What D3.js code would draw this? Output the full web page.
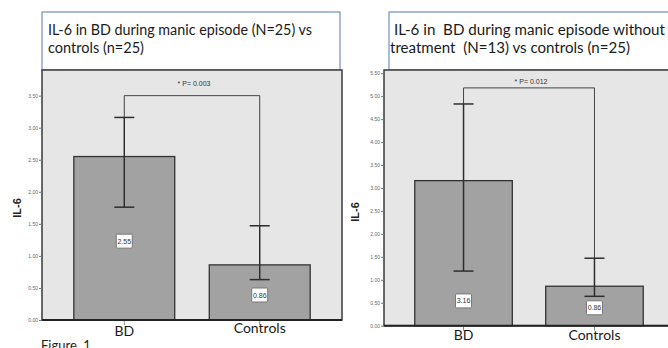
<!DOCTYPE html>
<html>
<head>
<meta charset="utf-8">
<script src="https://cdn.jsdelivr.net/npm/d3@7"></script>
<style>
  body { margin: 0; background: #fff; }
  svg { display: block; }
</style>
</head>
<body>
<svg width="668" height="348"></svg>
<script>
// data
var categories = ['BD', 'Controls'];

var leftMeans = [2.55, 0.86];
var leftLower = [1.76, 0.63];
var leftUpper = [3.16, 1.47];

var rightMeans = [3.16, 0.86];
var rightLower = [1.19, 0.64];
var rightUpper = [4.83, 1.47];

var leftTicks = [0, 0.5, 1, 1.5, 2, 2.5, 3, 3.5];
var rightTicks = [0, 0.5, 1, 1.5, 2, 2.5, 3, 3.5, 4, 4.5, 5, 5.5];

var leftTitle = ['IL-6 in BD during manic episode (N=25) vs', 'controls (n=25)'];
var rightTitle = ['IL-6 in  BD during manic episode without', 'treatment  (N=13) vs controls (n=25)'];

var leftP = '* P= 0.003';
var rightP = '* P= 0.012';
var yLabel = 'IL-6';

var svg = d3.select('svg');

// layout of each panel (pixels / value units)
var panels = [
  {
    means: leftMeans, lower: leftLower, upper: leftUpper, ticks: leftTicks,
    title: leftTitle, p: leftP,
    x0: 42, x1: 342, y0: 70, y1: 320, yMax: 3.9,
    box: { x: 42, y: 12, w: 298 },
    titleX: [48, 48], titleLen: [264, 96],
    bracketAt: 3.5, pY: 86, labelAt: [1.23, 0.39], xLabelY: [336, 333],
    yLabelX: 21, yLabelY: 208
  },
  {
    means: rightMeans, lower: rightLower, upper: rightUpper, ticks: rightTicks,
    title: rightTitle, p: rightP,
    x0: 384, x1: 674, y0: 70, y1: 325.7, yMax: 5.57,
    box: { x: 389, y: 12, w: 290 },
    titleX: [394, 390], titleLen: [271, 240],
    bracketAt: 5.18, pY: 84, labelAt: [0.54, 0.39], xLabelY: [340, 340],
    yLabelX: 359, yLabelY: 212
  }
];

panels.forEach(function(p) {
  var g = svg.append('g');

  var x = d3.scaleBand().domain(categories).range([p.x0, p.x1])
    .paddingInner(0.255).paddingOuter(0.235);
  var y = d3.scaleLinear().domain([0, p.yMax]).range([p.y1, p.y0]);

  // title box
  g.append('rect')
    .attr('x', p.box.x).attr('y', p.box.y)
    .attr('width', p.box.w).attr('height', p.y0 - p.box.y)
    .attr('fill', '#fff').attr('stroke', '#6f8fc0').attr('stroke-width', 1.2);

  g.selectAll('.title').data(p.title).enter().append('text')
    .attr('x', function(d, i) { return p.titleX[i]; })
    .attr('y', function(d, i) { return 35 + i * 18; })
    .attr('textLength', function(d, i) { return p.titleLen[i]; })
    .attr('lengthAdjust', 'spacingAndGlyphs')
    .attr('font-family', 'Lato, sans-serif')
    .attr('font-size', 14.5)
    .attr('fill', '#1a1a1a')
    .style('white-space', 'pre')
    .text(function(d) { return d; });

  // plot area
  g.append('rect')
    .attr('x', p.x0).attr('y', p.y0)
    .attr('width', p.x1 - p.x0).attr('height', p.y1 - p.y0)
    .attr('fill', '#e6e6e6').attr('stroke', '#3a3a3a').attr('stroke-width', 1.5);

  // y axis
  var yAxis = d3.axisLeft(y).tickValues(p.ticks).tickFormat(d3.format('.2f'))
    .tickSize(3).tickPadding(1);
  var ya = g.append('g').attr('transform', 'translate(' + p.x0 + ',0)').call(yAxis);
  ya.select('.domain').remove();
  ya.selectAll('line').attr('stroke', '#777');
  ya.selectAll('text').attr('font-size', 5).attr('fill', '#666')
    .attr('font-family', 'Liberation Sans, sans-serif');

  // x axis
  var xAxis = d3.axisBottom(x).tickSize(5).tickPadding(4);
  var xa = g.append('g').attr('transform', 'translate(0,' + p.y1 + ')').call(xAxis);
  xa.select('.domain').remove();
  xa.selectAll('line').attr('stroke', '#888');
  xa.selectAll('text').remove();

  g.selectAll('.xlab').data(categories).enter().append('text')
    .attr('x', function(d) { return x(d) + x.bandwidth() / 2; })
    .attr('y', function(d, i) { return p.xLabelY[i]; })
    .attr('text-anchor', 'middle')
    .attr('font-family', 'Lato, sans-serif')
    .attr('font-size', 14)
    .attr('fill', '#1a1a1a')
    .text(function(d) { return d; });

  // bars
  g.selectAll('.bar').data(p.means).enter().append('rect')
    .attr('x', function(d, i) { return x(categories[i]); })
    .attr('y', function(d) { return y(d); })
    .attr('width', x.bandwidth())
    .attr('height', function(d) { return y(0) - y(d); })
    .attr('fill', '#a2a2a2').attr('stroke', '#333').attr('stroke-width', 1.3);

  // bottom axis line
  g.append('line')
    .attr('x1', p.x0).attr('x2', p.x1).attr('y1', p.y1).attr('y2', p.y1)
    .attr('stroke', '#222').attr('stroke-width', 2);

  // bracket for the p value
  var cx = categories.map(function(c) { return x(c) + x.bandwidth() / 2; });
  var bracket = [
    [cx[0], y(p.upper[0])], [cx[0], y(p.bracketAt)],
    [cx[1], y(p.bracketAt)], [cx[1], y(p.upper[1])]
  ];
  g.append('path')
    .attr('d', d3.line()(bracket))
    .attr('fill', 'none').attr('stroke', '#444').attr('stroke-width', 1);

  g.append('text')
    .attr('x', (cx[0] + cx[1]) / 2 + 2).attr('y', p.pY)
    .attr('text-anchor', 'middle')
    .attr('font-family', 'Liberation Sans Narrow, Liberation Sans, sans-serif')
    .attr('font-size', 7)
    .attr('fill', '#333')
    .text(p.p);

  // error bars
  categories.forEach(function(c, i) {
    var eg = g.append('g').attr('stroke', '#2e2e2e').attr('stroke-width', 1.5);
    eg.append('line')
      .attr('x1', cx[i]).attr('x2', cx[i])
      .attr('y1', y(p.lower[i])).attr('y2', y(p.upper[i]));
    [p.lower[i], p.upper[i]].forEach(function(v) {
      eg.append('line')
        .attr('x1', cx[i] - 10).attr('x2', cx[i] + 10)
        .attr('y1', y(v)).attr('y2', y(v));
    });
  });

  // value labels
  categories.forEach(function(c, i) {
    var ly = y(p.labelAt[i]);
    g.append('rect')
      .attr('x', cx[i] - 8).attr('y', ly - 7)
      .attr('width', 16).attr('height', 14).attr('rx', 1)
      .attr('fill', '#fff').attr('stroke', '#777').attr('stroke-width', 1);
    g.append('text')
      .attr('x', cx[i]).attr('y', ly + 2.5)
      .attr('text-anchor', 'middle')
      .attr('font-family', 'Liberation Sans Narrow, Liberation Sans, sans-serif')
      .attr('font-size', 7)
      .attr('fill', '#333')
      .text(d3.format('.2f')(p.means[i]));
  });

  // y label
  g.append('text')
    .attr('transform', 'translate(' + p.yLabelX + ',' + p.yLabelY + ') rotate(-90)')
    .attr('text-anchor', 'middle')
    .attr('font-family', 'Liberation Sans, sans-serif')
    .attr('font-weight', 'bold')
    .attr('font-size', 11)
    .attr('fill', '#222')
    .text(yLabel);
});

svg.append('text')
  .attr('x', 41).attr('y', 350)
  .attr('font-family', 'Lato, sans-serif')
  .attr('font-size', 13)
  .attr('fill', '#222')
  .text('Figure. 1');
</script>
</body>
</html>
